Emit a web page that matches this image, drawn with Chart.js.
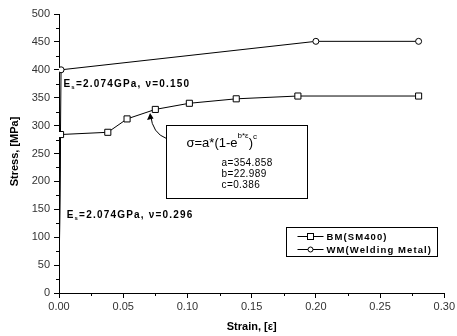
<!DOCTYPE html>
<html>
<head>
<meta charset="utf-8">
<script src="https://cdn.jsdelivr.net/npm/chart.js@4"></script>
<style>
  html, body { margin: 0; padding: 0; background: #fff; }
  #wrap { width: 457px; height: 336px; }
</style>
</head>
<body>
<div id="wrap"><canvas id="stressChart" width="457" height="336"></canvas></div>
<script>
// Данные кривых "напряжение - деформация"
const bmStrain = [0, 0.0012, 0.038, 0.053, 0.075, 0.1015, 0.138, 0.186, 0.28];
const bmStress = [0, 284, 288, 312, 329, 340, 348, 353, 353];
const wmStrain = [0, 0.0016, 0.2, 0.28];
const wmStress = [0, 400, 451, 451];

const xTicks = [0, 0.05, 0.1, 0.15, 0.2, 0.25, 0.3];
const yTicks = [0, 50, 100, 150, 200, 250, 300, 350, 400, 450, 500];

const legendLabels = ["BM(SM400)", "WM(Welding Metal)"];
const noteTop = "2.074GPa, \u03bd=0.150";
const noteBottom = "2.074GPa, \u03bd=0.296";
const fitParams = ["a=354.858", "b=22.989", "c=0.386"];

const toPoints = (xs, ys) => xs.map((x, i) => ({ x, y: ys[i] }));

// Подписи, рамка с формулой, легенда и малые штрихи
const extrasPlugin = {
    id: "extras",
    afterDraw(chart) {
        const { ctx, chartArea: area, scales: { x, y } } = chart;
        ctx.save();
        ctx.strokeStyle = "#000";
        ctx.fillStyle = "#000";
        ctx.lineWidth = 1;

        // малые штрихи
        ctx.beginPath();
        for (let v = 0.025; v < 0.3; v += 0.05) {
            const px = Math.round(x.getPixelForValue(v)) + 0.5;
            ctx.moveTo(px, area.bottom);
            ctx.lineTo(px, area.bottom + 3);
        }
        for (let v = 25; v < 500; v += 50) {
            const py = Math.round(y.getPixelForValue(v)) + 0.5;
            ctx.moveTo(area.left, py);
            ctx.lineTo(area.left - 3, py);
        }
        ctx.stroke();

        // подписи осей
        ctx.font = "bold 11px 'Liberation Sans', Arial, sans-serif";
        ctx.textAlign = "center";
        ctx.textBaseline = "middle";
        ctx.fillText("Strain, [\u03b5]", (area.left + area.right) / 2, 327);
        ctx.save();
        ctx.translate(15, (area.top + area.bottom) / 2 - 2);
        ctx.rotate(-Math.PI / 2);
        ctx.fillText("Stress, [MPa]", 0, 0);
        ctx.restore();

        // модуль упругости
        const drawNote = (text, vx, vy) => {
            const px = x.getPixelForValue(vx);
            const py = y.getPixelForValue(vy);
            ctx.textAlign = "left";
            ctx.textBaseline = "alphabetic";
            ctx.letterSpacing = "1.2px";
            ctx.font = "bold 10px 'Liberation Sans', Arial, sans-serif";
            ctx.fillText("E", px, py);
            let w = ctx.measureText("E").width;
            ctx.font = "bold 6px 'Liberation Sans', Arial, sans-serif";
            ctx.fillText("s", px + w, py + 2);
            w += ctx.measureText("s").width;
            ctx.font = "bold 10px 'Liberation Sans', Arial, sans-serif";
            ctx.fillText("=" + text, px + w, py);
            ctx.letterSpacing = "0px";
        };
        drawNote(noteTop, 0.0035, 370);
        drawNote(noteBottom, 0.006, 135);

        // рамка с формулой
        const bx1 = Math.round(x.getPixelForValue(0.083)) + 0.5;
        const bx2 = Math.round(x.getPixelForValue(0.1928)) + 0.5;
        const by1 = Math.round(y.getPixelForValue(301)) + 0.5;
        const by2 = Math.round(y.getPixelForValue(170)) + 0.5;
        ctx.fillStyle = "#fff";
        ctx.fillRect(bx1, by1, bx2 - bx1, by2 - by1);
        ctx.strokeRect(bx1, by1, bx2 - bx1, by2 - by1);
        ctx.fillStyle = "#000";

        let fx = bx1 + 20;
        const fy = by1 + 21;
        const part = (t, size, dy) => {
            ctx.font = size + "px 'Liberation Sans', Arial, sans-serif";
            ctx.fillText(t, fx, fy + dy);
            fx += ctx.measureText(t).width;
        };
        ctx.textAlign = "left";
        ctx.textBaseline = "alphabetic";
        part("\u03c3=a*(1-e", 13, 0);
        part("b*\u03b5", 8, -9);
        part(")", 13, 0);
        part("c", 8, -8);

        ctx.letterSpacing = "0.4px";
        ctx.font = "10px 'Liberation Sans', Arial, sans-serif";
        fitParams.forEach((t, i) => ctx.fillText(t, bx1 + 55, by1 + 40 + i * 11));
        ctx.letterSpacing = "0px";

        // стрелка к точке
        const ax = x.getPixelForValue(0.0713);
        const ay = y.getPixelForValue(319);
        ctx.beginPath();
        ctx.moveTo(bx1, by1 + 13);
        ctx.quadraticCurveTo(bx1 - 14, by1 + 8, ax, ay);
        ctx.stroke();
        ctx.beginPath();
        ctx.moveTo(ax - 0.5, ay - 2);
        ctx.lineTo(ax - 3.5, ay + 5);
        ctx.lineTo(ax + 3, ay + 3.5);
        ctx.closePath();
        ctx.fill();

        // легенда
        const lx1 = Math.round(x.getPixelForValue(0.177)) + 0.5;
        const lx2 = Math.round(x.getPixelForValue(0.294)) + 0.5;
        const ly1 = Math.round(y.getPixelForValue(118)) + 0.5;
        const ly2 = Math.round(y.getPixelForValue(67)) + 0.5;
        ctx.fillStyle = "#fff";
        ctx.fillRect(lx1, ly1, lx2 - lx1, ly2 - ly1);
        ctx.strokeRect(lx1, ly1, lx2 - lx1, ly2 - ly1);
        ctx.fillStyle = "#000";
        ctx.font = "bold 9.5px 'Liberation Sans', Arial, sans-serif";
        ctx.textBaseline = "middle";
        legendLabels.forEach((label, i) => {
            const ry = Math.round(ly1 + 8 + i * 13) + 0.5;
            const sx = lx1 + 11;
            ctx.beginPath();
            ctx.moveTo(sx, ry);
            ctx.lineTo(sx + 26, ry);
            ctx.stroke();
            ctx.fillStyle = "#fff";
            if (i === 0) {
                ctx.fillRect(sx + 10, ry - 3, 6, 6);
                ctx.strokeRect(sx + 10, ry - 3, 6, 6);
            } else {
                ctx.beginPath();
                ctx.arc(sx + 13, ry, 2.5, 0, Math.PI * 2);
                ctx.fill();
                ctx.stroke();
            }
            ctx.fillStyle = "#000";
            ctx.letterSpacing = "1.1px";
            ctx.fillText(label, sx + 29, ry + 0.5);
            ctx.letterSpacing = "0px";
        });

        ctx.restore();
    }
};

const tickFont = { family: "'Liberation Sans', Arial, sans-serif", size: 11 };

const ctx = document.getElementById("stressChart").getContext("2d");
new Chart(ctx, {
    type: "scatter",
    data: {
        datasets: [
            {
                label: legendLabels[0],
                data: toPoints(bmStrain, bmStress),
                showLine: true,
                borderColor: "#000",
                borderWidth: 1,
                pointStyle: "rect",
                pointRadius: c => (c.dataIndex === 0 ? 0 : 4.3),
                pointBackgroundColor: "#fff",
                pointBorderColor: "#000",
                pointBorderWidth: 1
            },
            {
                label: legendLabels[1],
                data: toPoints(wmStrain, wmStress),
                showLine: true,
                borderColor: "#000",
                borderWidth: 1,
                pointStyle: "circle",
                pointRadius: c => (c.dataIndex === 0 ? 0 : 3),
                pointBackgroundColor: "#fff",
                pointBorderColor: "#000",
                pointBorderWidth: 1
            }
        ]
    },
    options: {
        responsive: false,
        animation: false,
        devicePixelRatio: 1,
        layout: { padding: { left: 0, top: 14, right: 11, bottom: 0 } },
        plugins: { legend: { display: false }, tooltip: { enabled: false } },
        scales: {
            x: {
                type: "linear",
                min: 0,
                max: 0.3,
                afterBuildTicks: s => { s.ticks = xTicks.map(v => ({ value: v })); },
                afterFit: s => { s.height = 43; },
                ticks: { font: tickFont, color: "#333", padding: 2, callback: v => v.toFixed(2) },
                grid: { drawOnChartArea: false, tickLength: 5, color: "#000" },
                border: { color: "#000", width: 1 }
            },
            y: {
                min: 0,
                max: 500,
                afterBuildTicks: s => { s.ticks = yTicks.map(v => ({ value: v })); },
                afterFit: s => { s.width = 59; },
                ticks: { font: tickFont, color: "#333", padding: 4 },
                grid: { drawOnChartArea: false, tickLength: 5, color: "#000" },
                border: { color: "#000", width: 1 }
            }
        }
    },
    plugins: [extrasPlugin]
});
</script>
</body>
</html>
